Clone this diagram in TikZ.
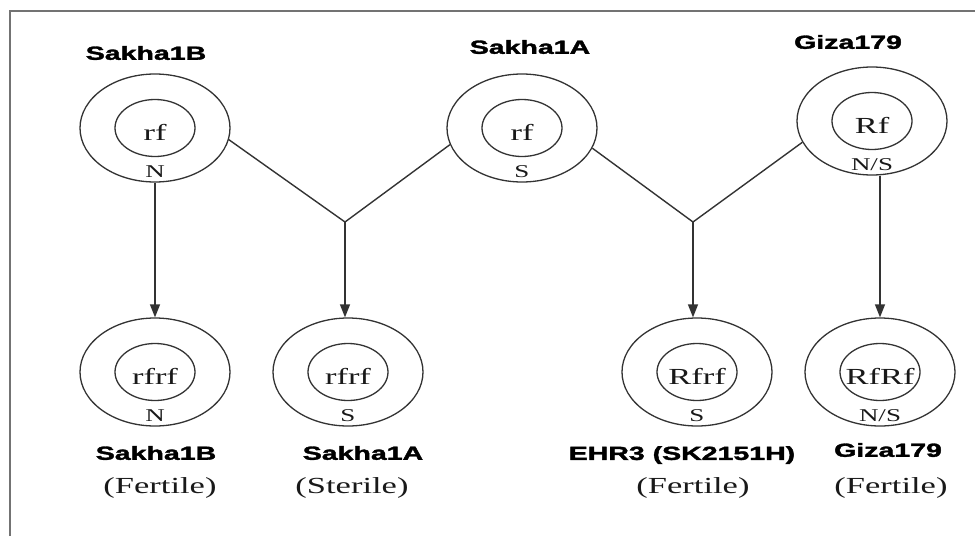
\documentclass[tikz,border=0pt]{standalone}
\usepackage{fontspec}
\setmainfont{Liberation Serif}
\setsansfont{Liberation Sans}[BoldFeatures={FakeBold=1.6}]
\usetikzlibrary{shapes.geometric,arrows.meta}

% text in the figure is stretched sideways
\newcommand{\wtxt}[1]{\scalebox{1.5}[1]{#1}}

\tikzset{
  plasm/.style={draw=black!80, line width=1.3pt, ellipse, minimum width=150pt, minimum height=108pt, inner sep=0pt},
  nuc/.style={draw=black!80, line width=1.3pt, ellipse, minimum width=80pt, minimum height=57pt, inner sep=0pt},
  gene/.style={inner sep=0pt, text=black!90, font=\fontsize{23}{25}\selectfont},
  cyto/.style={inner sep=0pt, anchor=base, text=black!90, font=\fontsize{18}{20}\selectfont},
  cv/.style={inner sep=0pt, font=\sffamily\bfseries\fontsize{19}{21}\selectfont},
  trait/.style={inner sep=0pt, text=black!90, font=\fontsize{23}{25}\selectfont},
  link/.style={draw=black!80, line width=1.4pt},
  arr/.style={link, -{Triangle[length=13pt,width=10pt]}},
  frame/.style={draw=black!55, line width=2pt}
}

\begin{document}
\begin{tikzpicture}[x=1pt,y=-1pt]
\useasboundingbox (0,0) rectangle (975,536);
\draw[frame] (10,536) |- (975,11);

% parents (top) and offspring (bottom)
\foreach \nm/\x/\y/\gen/\cyt in {p1/155/128/rf/N, p2/522/128/rf/S, p3/872/121/Rf/{N/S},
    c1/155/372/rfrf/N, c2/348/372/rfrf/S, c3/697/372/Rfrf/S, c4/880/372/RfRf/{N/S}} {
  \node[plasm] (\nm) at (\x,\y) {};
  \node[nuc] (n\nm) at (\nm) {};
  \node[gene] (g\nm) at ([yshift=-4pt]n\nm) {\wtxt{\gen}};
  \node[cyto] (k\nm) at ([yshift=5pt]\nm.south) {\wtxt{\cyt}};
}

% cultivar names
\node[cv] (np1) at (146,53) {\wtxt{Sakha1B}};
\node[cv] (np2) at (530,47) {\wtxt{Sakha1A}};
\node[cv] (np3) at (848,42) {\wtxt{Giza179}};
\node[cv] (nc1) at (156,453) {\wtxt{Sakha1B}};
\node[cv] (nc2) at (363,453) {\wtxt{Sakha1A}};
\node[cv] (nc3) at (682,455) {\wtxt{EHR3 (SK2151H)}};
\node[cv] (nc4) at (888,450) {\wtxt{Giza179}};
\node[trait] (tc1) at (160,488) {\wtxt{(Fertile)}};
\node[trait] (tc2) at (352,488) {\wtxt{(Sterile)}};
\node[trait] (tc3) at (693,488) {\wtxt{(Fertile)}};
\node[trait] (tc4) at (891,488) {\wtxt{(Fertile)}};

% crosses
\coordinate (j1) at (345,222);
\coordinate (j2) at (693,222);
\draw[link] (p1.-9) -- (j1) -- (p2.-167);
\draw[link] (p2.-16) -- (j2) -- (p3.-163);
\draw[arr] (p1.south) -- (c1.north);
\draw[arr] (j1) -- (j1 |- c2.north);
\draw[arr] (j2) -- (j2 |- c3.north);
\draw[arr] (c4.north |- p3.south) -- (c4.north);
\end{tikzpicture}
\end{document}
